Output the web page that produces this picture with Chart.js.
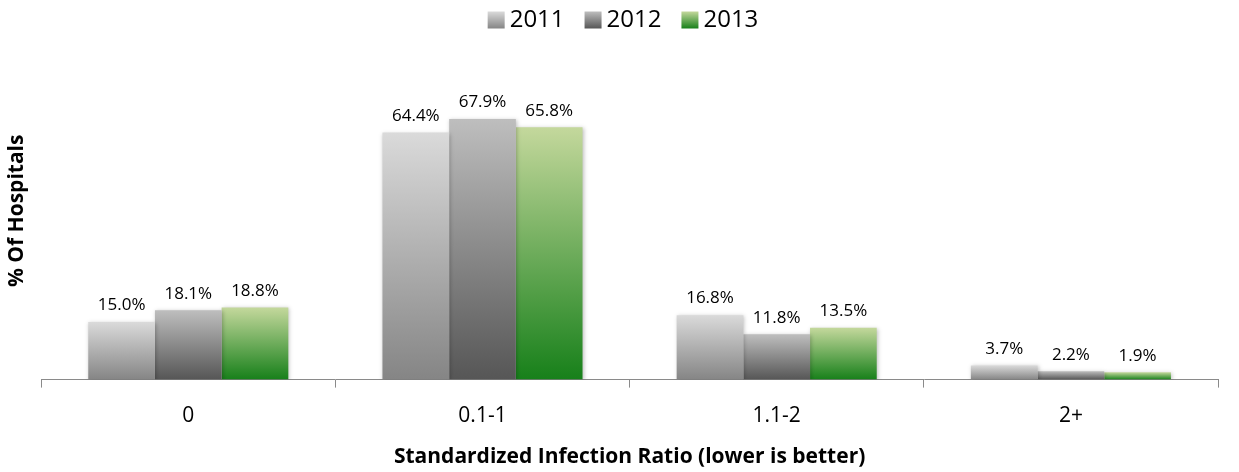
<!DOCTYPE html>
<html>
<head>
<meta charset="utf-8">
<script src="https://cdn.jsdelivr.net/npm/chart.js@4.4.0/dist/chart.umd.min.js"></script>
<style>
  html, body { margin: 0; padding: 0; background: #fff; }
  #wrap { width: 1239px; height: 472px; }
</style>
</head>
<body>
<div id="wrap"><canvas id="sirChart"></canvas></div>
<script>
// Share of hospitals by standardized infection ratio band
const ratioBands = ['0', '0.1-1', '1.1-2', '2+'];
const years = ['2011', '2012', '2013'];
const pct2011 = [15.0, 64.4, 16.8, 3.7];
const pct2012 = [18.1, 67.9, 11.8, 2.2];
const pct2013 = [18.8, 65.8, 13.5, 1.9];

// top / bottom colours of each year's gradient
const gradTops = ['#dadada', '#bebebe', '#c4d89c'];
const gradBottoms = ['#858585', '#565656', '#17801a'];

const fontFam = '"Open Sans", sans-serif';
const legendSize = 24;

function barGradient(idx) {
    return function(ctx) {
        const chart = ctx.chart;
        if (!chart.chartArea || ctx.dataIndex === undefined) return gradTops[idx];
        const y = chart.scales.y;
        const v = ctx.dataset.data[ctx.dataIndex];
        const top = y.getPixelForValue(v);
        const bottom = y.getPixelForValue(0);
        const g = chart.ctx.createLinearGradient(0, top, 0, bottom);
        g.addColorStop(0, gradTops[idx]);
        g.addColorStop(1, gradBottoms[idx]);
        return g;
    };
}

// soft shadow under the bars
const barShadow = {
    id: 'barShadow',
    beforeDatasetsDraw(chart) {
        const c = chart.ctx;
        c.save();
        c.shadowColor = 'rgba(0,0,0,0.25)';
        c.shadowBlur = 4;
        c.shadowOffsetX = 1;
        c.shadowOffsetY = 1;
    },
    afterDatasetsDraw(chart) {
        chart.ctx.restore();
    }
};

// percent labels above every bar
const valueLabels = {
    id: 'valueLabels',
    afterDatasetsDraw(chart) {
        const c = chart.ctx;
        c.save();
        c.font = '17px ' + fontFam;
        c.fillStyle = '#000';
        c.textAlign = 'center';
        c.textBaseline = 'bottom';
        chart.data.datasets.forEach((ds, i) => {
            chart.getDatasetMeta(i).data.forEach((bar, j) => {
                c.fillText(ds.data[j].toFixed(1) + '%', bar.x, bar.y - 8);
            });
        });
        c.restore();
    }
};

// legend boxes: drawn here with the bar gradients, tucked close to the text
const legendGrad = {
    id: 'legendGrad',
    afterDraw(chart) {
        const lg = chart.legend;
        if (!lg || !lg.legendHitBoxes) return;
        const c = chart.ctx;
        const bw = lg.options.labels.boxWidth;
        const bh = lg.options.labels.boxHeight;
        const shift = legendSize / 2 - 5;
        lg.legendHitBoxes.forEach((hb, i) => {
            const top = hb.top + (hb.height - bh) / 2;
            const left = hb.left + shift;
            const g = c.createLinearGradient(0, top, 0, top + bh);
            g.addColorStop(0, gradTops[i]);
            g.addColorStop(1, gradBottoms[i]);
            c.fillStyle = g;
            c.fillRect(left, top, bw, bh);
        });
    }
};

const seriesData = [pct2011, pct2012, pct2013];

new Chart(document.getElementById('sirChart'), {
    type: 'bar',
    data: {
        labels: ratioBands,
        datasets: years.map((yr, i) => ({
            label: yr,
            data: seriesData[i],
            backgroundColor: barGradient(i),
            borderWidth: 0,
            categoryPercentage: 0.68,
            barPercentage: 1.0
        }))
    },
    options: {
        responsive: true,
        maintainAspectRatio: false,
        animation: false,
        layout: { padding: { left: 0, right: 0, top: -5, bottom: 2 } },
        plugins: {
            tooltip: { enabled: false },
            legend: {
                position: 'top',
                labels: {
                    boxWidth: 17,
                    boxHeight: 17,
                    padding: 13,
                    color: '#000',
                    font: { family: fontFam, size: legendSize },
                    generateLabels(chart) {
                        return chart.data.datasets.map((ds, i) => ({
                            text: ds.label,
                            fillStyle: 'rgba(0,0,0,0)',
                            strokeStyle: 'rgba(0,0,0,0)',
                            lineWidth: 0,
                            fontColor: '#000',
                            datasetIndex: i,
                            hidden: false
                        }));
                    }
                }
            }
        },
        scales: {
            x: {
                grid: {
                    display: true,
                    drawOnChartArea: false,
                    drawTicks: true,
                    tickLength: 8,
                    color: '#8a8a8a',
                    offset: true
                },
                border: { display: true, color: '#8a8a8a', width: 1 },
                ticks: {
                    color: '#000',
                    padding: 16,
                    font: { family: fontFam, size: 21 }
                },
                title: {
                    display: true,
                    text: 'Standardized Infection Ratio (lower is better)',
                    color: '#000',
                    font: { family: fontFam, size: 21, weight: 'bold' },
                    padding: { top: 0, bottom: 0 }
                }
            },
            y: {
                min: 0,
                max: 88,
                ticks: { display: false },
                grid: { display: false },
                border: { display: false },
                title: {
                    display: true,
                    text: '% Of Hospitals',
                    color: '#000',
                    font: { family: fontFam, size: 21, weight: 'bold' },
                    padding: { top: 4, bottom: 4 }
                }
            },
            // empty strip that keeps the plot clear of the right edge
            yRight: {
                position: 'right',
                display: true,
                ticks: { display: false },
                grid: { display: false },
                border: { display: false },
                afterFit(scale) { scale.width = 21; }
            }
        }
    },
    plugins: [barShadow, valueLabels, legendGrad]
});
</script>
</body>
</html>
